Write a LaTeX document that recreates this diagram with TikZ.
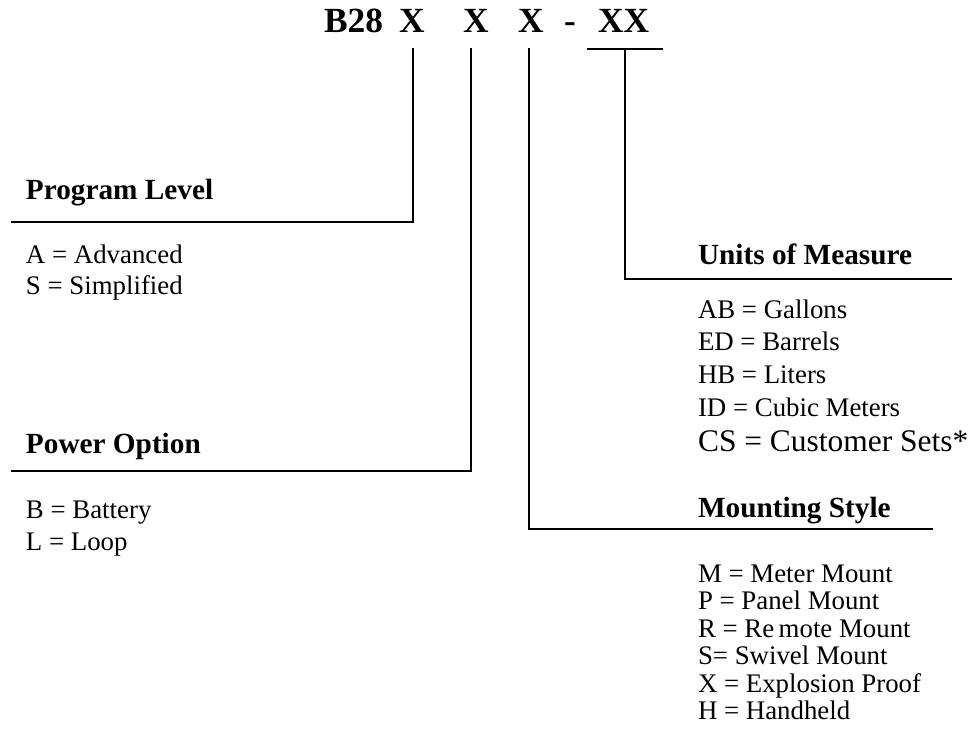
\documentclass[tikz,border=0pt]{standalone}
\usepackage{fontspec}
\setmainfont{Liberation Serif}
\usetikzlibrary{positioning}

\begin{document}
\begin{tikzpicture}[x=0.41pt, y=0.41pt, line width=0.82pt,
  every node/.style={inner sep=0pt, anchor=base west},
  code/.style={font=\fontsize{14.5}{17}\selectfont\bfseries, anchor=base west},
  head/.style={font=\fontsize{12}{14}\selectfont\bfseries, anchor=base west},
  item/.style={font=\fontsize{11}{13}\selectfont, anchor=base west},
  bigitem/.style={font=\fontsize{12.9}{15}\selectfont, anchor=base west}]
\useasboundingbox (0,0) rectangle (972,-736);
% model code
\node[code] (b28) at (323,-32) {B28};
\node[code] (x1) at (398,-32) {X};
\node[code] (x2) at (462,-32) {X};
\node[code] (x3) at (517,-32) {X};
\node[code] (dash) at (563,-32) {-};
\node[code] (xx) at (597,-32) {XX};
% Program Level
\node[head] (pl) at (25,-199) {Program Level};
\node[item] (pl1) at (25,-263) {A = Advanced};
\node[below=13.1pt of pl1.base west, item] (pl2) {S = Simplified};
% Power Option
\node[head] (po) at (25,-453) {Power Option};
\node[item] (po1) at (25,-518) {B = Battery};
\node[below=13.5pt of po1.base west, item] (po2) {L = Loop};
% Units of Measure
\node[head] (um) at (697,-264) {Units of Measure};
\node[item] (um1) at (697,-318) {AB = Gallons};
\node[below=13.5pt of um1.base west, item] (um2) {ED = Barrels};
\node[below=13.5pt of um2.base west, item] (um3) {HB = Liters};
\node[below=13.5pt of um3.base west, item] (um4) {ID = Cubic Meters};
\node[below=14.4pt of um4.base west, bigitem] (um5) {CS = Customer Sets*};
% Mounting Style
\node[head] (ms) at (697,-517) {Mounting Style};
\node[item] (ms1) at (697,-582) {M = Meter Mount};
\node[below=11.3pt of ms1.base west, item] (ms2) {P = Panel Mount};
\node[below=11.3pt of ms2.base west, item] (ms3) {R = Re\,mote Mount};
\node[below=11.3pt of ms3.base west, item] (ms4) {S= Swivel Mount};
\node[below=11.3pt of ms4.base west, item] (ms5) {X = Explosion Proof};
\node[below=11.3pt of ms5.base west, item] (ms6) {H = Handheld};
% leader lines
\coordinate (plTop) at (413,-48);
\coordinate (plEnd) at (11,-222);
\coordinate (poTop) at (471,-48);
\coordinate (poEnd) at (11,-471);
\coordinate (msTop) at (529,-48);
\coordinate (msEnd) at (933,-529);
\coordinate (ovL) at (587,-49);
\coordinate (ovR) at (663,-49);
\coordinate (umTop) at (625,-49);
\coordinate (umEnd) at (952,-279);
\draw (plTop) |- (plEnd);
\draw (poTop) |- (poEnd);
\draw (msTop) |- (msEnd);
\draw (ovL) -- (ovR);
\draw (umTop) |- (umEnd);
\end{tikzpicture}
\end{document}
